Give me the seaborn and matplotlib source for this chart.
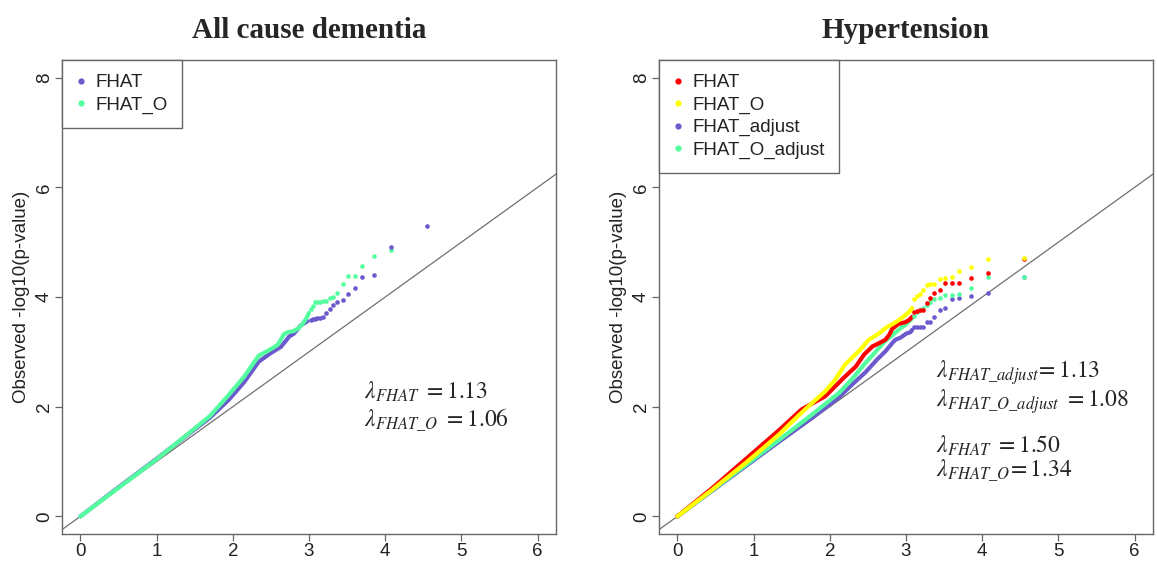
import matplotlib
matplotlib.use("Agg")
import matplotlib.pyplot as plt
from matplotlib.lines import Line2D
import seaborn as sns
import pandas as pd

# ---------------- data ----------------
# Left panel: All cause dementia
dem_fhat_line_x = [0.0, 0.5, 1.0, 1.4, 1.7, 1.95, 2.15, 2.34, 2.5, 2.63, 2.69, 2.74, 2.8, 2.85, 2.89, 2.98]
dem_fhat_line_y = [0.0, 0.53, 1.05, 1.48, 1.80, 2.13, 2.45, 2.82, 2.98, 3.09, 3.19, 3.28, 3.33, 3.41, 3.48, 3.56]
dem_fhato_line_x = [0.0, 0.5, 1.0, 1.4, 1.7, 1.95, 2.15, 2.34, 2.5, 2.59, 2.63, 2.67, 2.72, 2.80, 2.87, 2.91, 2.96, 3.0]
dem_fhato_line_y = [0.0, 0.52, 1.04, 1.49, 1.83, 2.22, 2.55, 2.93, 3.05, 3.13, 3.22, 3.32, 3.36, 3.38, 3.44, 3.50, 3.60, 3.71]

dem_tail_x = [4.55, 4.07, 3.85, 3.70, 3.60, 3.51, 3.44, 3.37, 3.32, 3.27, 3.22, 3.18, 3.15, 3.11, 3.08, 3.05, 3.02]
dem_fhat_tail_y = [5.30, 4.92, 4.40, 4.36, 4.17, 4.06, 3.95, 3.91, 3.85, 3.78, 3.71, 3.63, 3.62, 3.61, 3.60, 3.59, 3.58]
dem_fhato_tail_x = [4.07, 3.85, 3.70, 3.60, 3.51, 3.44, 3.37, 3.32, 3.27, 3.22, 3.18, 3.15, 3.11, 3.08, 3.05, 3.02]
dem_fhato_tail_y = [4.86, 4.75, 4.57, 4.39, 4.38, 4.24, 4.07, 4.00, 3.98, 3.93, 3.92, 3.91, 3.91, 3.90, 3.83, 3.78]

# Right panel: Hypertension
hyp_tail_x = [4.55, 4.07, 3.85, 3.70, 3.60, 3.51, 3.44, 3.37, 3.32, 3.27, 3.22, 3.18, 3.15, 3.11]
hyp_fhato_tail_y = [4.72, 4.69, 4.54, 4.48, 4.37, 4.34, 4.32, 4.24, 4.23, 4.22, 4.13, 4.06, 4.01, 3.97]
hyp_fhat_tail_y = [4.70, 4.43, 4.35, 4.26, 4.25, 4.25, 4.12, 4.07, 3.98, 3.89, 3.77, 3.76, 3.75, 3.72]
hyp_fhatoadj_tail_y = [4.37, 4.36, 4.17, 4.06, 4.04, 4.03, 3.99, 3.97, 3.90, 3.86, 3.80, 3.76, 3.72, 3.66]
hyp_fhatadj_tail_y = [4.36, 4.08, 4.02, 3.98, 3.97, 3.80, 3.77, 3.64, 3.55, 3.55, 3.45, 3.45, 3.45, 3.45]

hyp_fhato_line_x = [0.0, 0.47, 0.91, 1.34, 1.56, 1.77, 1.94, 2.07, 2.20, 2.29, 2.40, 2.51, 2.62, 2.75, 2.84, 2.93, 3.0, 3.05, 3.08]
hyp_fhato_line_y = [0.0, 0.50, 0.99, 1.50, 1.80, 2.07, 2.28, 2.49, 2.77, 2.89, 3.04, 3.22, 3.31, 3.45, 3.52, 3.60, 3.68, 3.74, 3.80]
hyp_fhat_line_x = [0.0, 0.47, 0.91, 1.34, 1.63, 1.94, 2.07, 2.20, 2.34, 2.45, 2.56, 2.65, 2.73, 2.78, 2.82, 2.90, 2.99, 3.04, 3.08]
hyp_fhat_line_y = [0.0, 0.53, 1.06, 1.58, 1.95, 2.19, 2.37, 2.55, 2.73, 2.95, 3.10, 3.16, 3.22, 3.31, 3.42, 3.51, 3.54, 3.58, 3.64]
hyp_fhatoadj_line_x = [0.0, 0.47, 0.91, 1.34, 1.77, 1.94, 2.12, 2.29, 2.47, 2.62, 2.73, 2.82, 2.90, 2.99, 3.06, 3.08]
hyp_fhatoadj_line_y = [0.0, 0.49, 0.95, 1.40, 1.86, 2.05, 2.25, 2.50, 2.80, 3.03, 3.20, 3.30, 3.40, 3.49, 3.58, 3.62]
hyp_fhatadj_line_x = [0.0, 0.47, 0.91, 1.34, 1.77, 1.94, 2.12, 2.29, 2.47, 2.62, 2.73, 2.82, 2.86, 2.93, 3.0, 3.06, 3.08]
hyp_fhatadj_line_y = [0.0, 0.48, 0.93, 1.37, 1.80, 1.98, 2.17, 2.40, 2.63, 2.86, 3.01, 3.16, 3.22, 3.26, 3.33, 3.36, 3.40]

titles = ["All cause dementia", "Hypertension"]
dem_labels = ["FHAT", "FHAT_O"]
hyp_labels = ["FHAT", "FHAT_O", "FHAT_adjust", "FHAT_O_adjust"]
x_ticks = [0, 1, 2, 3, 4, 5, 6]
y_ticks = [0, 2, 4, 6, 8]

PURPLE = "#6A5ACD"
GREEN = "#54FF9F"
RED = "#FF0000"
YELLOW = "#FFFF00"

# ---------------- styling ----------------
sns.set_theme(style="white")
plt.rcParams["font.family"] = ["Liberation Sans", "DejaVu Sans"]
plt.rcParams["mathtext.fontset"] = "stix"

fig = plt.figure(figsize=(11.57, 5.61), dpi=100)
W, H = 1157, 561
ax1 = fig.add_axes([62 / W, (H - 534) / H, 494 / W, 474 / H])
ax2 = fig.add_axes([659 / W, (H - 534) / H, 494 / W, 474 / H])

LW = 3.0
MS = 11


def draw_line(ax, xs, ys, color, z):
    df = pd.DataFrame({"x": xs, "y": ys})
    sns.lineplot(data=df, x="x", y="y", ax=ax, color=color, lw=LW, sort=False,
                 estimator=None, solid_capstyle="round", zorder=z, legend=False)


def draw_pts(ax, xs, ys, color, z):
    df = pd.DataFrame({"x": xs, "y": ys})
    sns.scatterplot(data=df, x="x", y="y", ax=ax, color=color, s=MS, linewidth=0,
                    zorder=z, legend=False)


def style_axes(ax, title):
    ax.set_xlim(-0.24, 6.24)
    ax.set_ylim(-0.32, 8.32)
    ax.plot([-0.5, 7], [-0.5, 7], color="#707070", lw=0.9, zorder=1)
    ax.set_xticks(x_ticks)
    ax.set_yticks(y_ticks)
    ax.set_xticklabels([str(t) for t in x_ticks], fontsize=13.5, color="#222222")
    ax.set_yticklabels([str(t) for t in y_ticks], fontsize=13.5, color="#222222",
                       rotation=90, va="center")
    ax.tick_params(axis="both", direction="out", length=5, width=0.9, color="#666666",
                   bottom=True, left=True, pad=1.5)
    for sp in ax.spines.values():
        sp.set_color("#666666")
        sp.set_linewidth(1.0)
    ax.set_xlabel("")
    ax.set_ylabel("Observed -log10(p-value)", fontsize=13.5, color="#222222", labelpad=4)
    ax.set_title(title, fontsize=21, fontweight="bold", family="Liberation Serif", pad=16)


# left panel
draw_line(ax1, dem_fhat_line_x, dem_fhat_line_y, PURPLE, 3)
draw_line(ax1, dem_fhato_line_x, dem_fhato_line_y, GREEN, 4)
draw_pts(ax1, dem_fhato_tail_x, dem_fhato_tail_y, GREEN, 5)
draw_pts(ax1, dem_tail_x, dem_fhat_tail_y, PURPLE, 6)
style_axes(ax1, titles[0])

# right panel
draw_line(ax2, hyp_fhatadj_line_x, hyp_fhatadj_line_y, PURPLE, 3)
draw_line(ax2, hyp_fhatoadj_line_x, hyp_fhatoadj_line_y, GREEN, 4)
draw_line(ax2, hyp_fhat_line_x, hyp_fhat_line_y, RED, 5)
draw_line(ax2, hyp_fhato_line_x, hyp_fhato_line_y, YELLOW, 6)
draw_pts(ax2, hyp_tail_x, hyp_fhatadj_tail_y, PURPLE, 7)
draw_pts(ax2, hyp_tail_x, hyp_fhatoadj_tail_y, GREEN, 8)
draw_pts(ax2, hyp_tail_x, hyp_fhat_tail_y, RED, 9)
draw_pts(ax2, hyp_tail_x, hyp_fhato_tail_y, YELLOW, 10)
style_axes(ax2, titles[1])


def add_legend(ax, labels, colors):
    handles = [Line2D([], [], marker="o", ls="", color=c, markersize=4.5, markeredgewidth=0)
               for c in colors]
    leg = ax.legend(handles, labels, loc="upper left", borderaxespad=0, fancybox=False,
                    framealpha=1, edgecolor="#666666", fontsize=13.5, labelspacing=0.28,
                    borderpad=0.75, handlelength=0.5, handletextpad=0.55,
                    labelcolor="#222222")
    leg.get_frame().set_linewidth(1.0)
    leg.set_zorder(20)


add_legend(ax1, dem_labels, [PURPLE, GREEN])
add_legend(ax2, hyp_labels, [RED, YELLOW, PURPLE, GREEN])

# lambda annotations
TFS = 17
ax1.text(3.72, 2.27, r"$\lambda_{FHAT}\ = 1.13$", fontsize=TFS, va="center", ha="left")
ax1.text(3.72, 1.75, r"$\lambda_{FHAT\_O}\ = 1.06$", fontsize=TFS, va="center", ha="left")
ax2.text(3.40, 2.62, r"$\lambda_{FHAT\_adjust}\!= 1.13$", fontsize=TFS, va="center", ha="left", clip_on=False)
ax2.text(3.40, 2.09, r"$\lambda_{FHAT\_O\_adjust}\ = 1.08$", fontsize=TFS, va="center", ha="left", clip_on=False)
ax2.text(3.40, 1.29, r"$\lambda_{FHAT}\ = 1.50$", fontsize=TFS, va="center", ha="left")
ax2.text(3.40, 0.82, r"$\lambda_{FHAT\_O}\!= 1.34$", fontsize=TFS, va="center", ha="left")

fig.savefig("out.png", dpi=100)
